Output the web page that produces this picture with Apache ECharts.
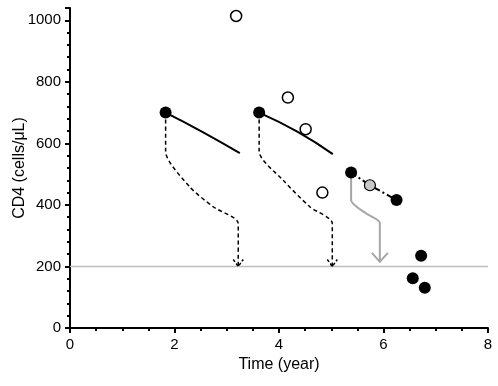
<!DOCTYPE html>
<html>
<head>
<meta charset="utf-8">
<script src="https://cdn.jsdelivr.net/npm/echarts@6/dist/echarts.min.js"></script>
<style>
  html, body { margin: 0; padding: 0; background: #fff; }
  #main { width: 498px; height: 386px; }
</style>
</head>
<body>
<div id="main"></div>
<script>
    // measured CD4 counts
    var filledX = [1.83, 3.62, 5.38, 6.25, 6.72, 6.56, 6.79];
    var filledY = [700, 700, 505, 416, 235, 162, 131];
    var openX = [3.18, 4.17, 4.51, 4.83];
    var openY = [1014, 749, 646, 440];
    var greyX = [5.74];
    var greyY = [464];

    // fitted decline (solid)
    var fit1X = [1.83, 2.55, 3.25];
    var fit1Y = [700, 636, 568];
    var fit2X = [3.62, 4.35, 5.03];
    var fit2Y = [700, 638, 565];

    // dash-dot link
    var linkX = [5.38, 5.74, 6.25];
    var linkY = [505, 464, 416];

    // projection paths (arrows)
    var path1X = [1.83, 1.83, 2.29, 2.74, 3.22, 3.22];
    var path1Y = [700, 574, 459, 394, 340, 200];
    var path2X = [3.62, 3.62, 4.08, 4.59, 5.02, 5.02];
    var path2Y = [700, 574, 480, 394, 340, 200];
    var path3X = [5.38, 5.38, 5.67, 5.93, 5.93];
    var path3Y = [505, 415, 372, 341, 215];

    var threshold = 200;

    function pairs(xs, ys) {
        var out = [];
        for (var i = 0; i < xs.length; i++) {
            out.push([xs[i], ys[i]]);
        }
        return out;
    }

    var arrowHeads = [
        [path1X[path1X.length - 1], path1Y[path1Y.length - 1], 0],
        [path2X[path2X.length - 1], path2Y[path2Y.length - 1], 0],
        [path3X[path3X.length - 1], path3Y[path3Y.length - 1], 1]
    ];

    var font = 'Liberation Sans, Arial, sans-serif';
    var tickTxt = { color: '#000', fontFamily: font, fontSize: 15 };
    var nameTxt = { color: '#000', fontFamily: font, fontSize: 16 };

    var option = {
        backgroundColor: '#fff',
        animation: false,
        grid: { left: 70, right: 10, top: 8, bottom: 58, containLabel: false, outerBoundsMode: 'none' },
        xAxis: {
            type: 'value', min: 0, max: 8, interval: 2,
            name: 'Time (year)', nameLocation: 'middle', nameGap: 29, nameMoveOverlap: false,
            nameTextStyle: nameTxt,
            axisLine: { onZero: false, lineStyle: { color: '#000', width: 2 } },
            axisTick: { length: 5, lineStyle: { color: '#000', width: 2 } },
            minorTick: { show: true, splitNumber: 4, length: 3, lineStyle: { color: '#000', width: 2 } },
            axisLabel: Object.assign({ margin: 9 }, tickTxt),
            splitLine: { show: false }
        },
        yAxis: {
            type: 'value', min: 0, max: 1040, interval: 200,
            name: 'CD4 (cells/\u03bcL)', nameLocation: 'middle', nameGap: 42, nameMoveOverlap: false,
            nameTextStyle: nameTxt,
            axisLine: { show: true, lineStyle: { color: '#000', width: 2 } },
            axisTick: { show: true, length: 5, lineStyle: { color: '#000', width: 2 } },
            minorTick: { show: true, splitNumber: 5, length: 3, lineStyle: { color: '#000', width: 2 } },
            axisLabel: Object.assign({ margin: 9, showMaxLabel: false, formatter: function (v) { return String(v); } }, tickTxt),
            splitLine: { show: false }
        },
        series: [
            {
                type: 'line', data: [[0, threshold], [8, threshold]], symbol: 'none',
                lineStyle: { color: '#bdbdbd', width: 1.5 }, z: 1, silent: true
            },
            {
                type: 'line', data: pairs(path1X, path1Y), symbol: 'none', smooth: 0.25,
                lineStyle: { color: '#000', width: 1.5, type: [4, 3] }, z: 2
            },
            {
                type: 'line', data: pairs(path2X, path2Y), symbol: 'none', smooth: 0.25,
                lineStyle: { color: '#000', width: 1.5, type: [4, 3] }, z: 2
            },
            {
                type: 'line', data: pairs(path3X, path3Y), symbol: 'none', smooth: 0.25,
                lineStyle: { color: '#a6a6a6', width: 2 }, z: 2
            },
            {
                type: 'custom', z: 3,
                data: arrowHeads,
                renderItem: function (params, api) {
                    var p = api.coord([api.value(0), api.value(1)]);
                    var grey = api.value(2) === 1;
                    var w = grey ? 8 : 5, h = grey ? 9 : 7;
                    return {
                        type: 'polyline',
                        shape: { points: [[p[0] - w, p[1] - h], [p[0], p[1]], [p[0] + w, p[1] - h]] },
                        style: {
                            fill: null,
                            stroke: grey ? '#a6a6a6' : '#000',
                            lineWidth: grey ? 2 : 1.5,
                            lineDash: grey ? null : [3, 2]
                        }
                    };
                }
            },
            {
                type: 'line', data: pairs(fit1X, fit1Y), symbol: 'none', smooth: true,
                lineStyle: { color: '#000', width: 2 }, z: 3
            },
            {
                type: 'line', data: pairs(fit2X, fit2Y), symbol: 'none', smooth: true,
                lineStyle: { color: '#000', width: 2 }, z: 3
            },
            {
                type: 'line', data: pairs(linkX, linkY), symbol: 'none',
                lineStyle: { color: '#000', width: 2, type: [6, 3, 2, 3] }, z: 3
            },
            {
                type: 'scatter', data: pairs(openX, openY), symbol: 'circle', symbolSize: 11,
                itemStyle: { color: '#fff', borderColor: '#000', borderWidth: 1.5, opacity: 1 }, z: 5
            },
            {
                type: 'scatter', data: pairs(greyX, greyY), symbol: 'circle', symbolSize: 11,
                itemStyle: { color: '#c8c8c8', borderColor: '#000', borderWidth: 1.2, opacity: 1 }, z: 5
            },
            {
                type: 'scatter', data: pairs(filledX, filledY), symbol: 'circle', symbolSize: 12,
                itemStyle: { color: '#000', opacity: 1 }, z: 6
            }
        ]
    };

    var myChart = echarts.init(document.getElementById('main'));
    myChart.setOption(option);
</script>
</body>
</html>
